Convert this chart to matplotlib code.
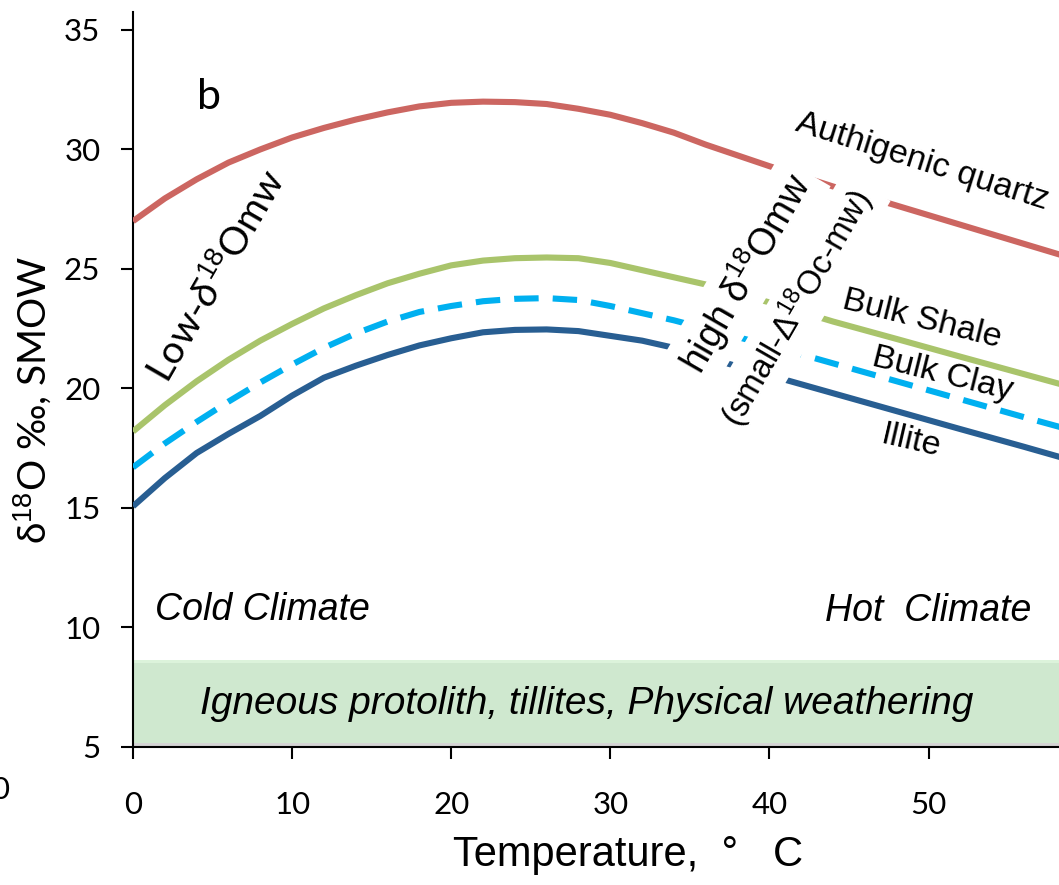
import numpy as np
import matplotlib
matplotlib.use("Agg")
import matplotlib.pyplot as plt

plt.rcParams['mathtext.fontset'] = 'custom'
plt.rcParams['mathtext.rm'] = 'Liberation Sans'
plt.rcParams['mathtext.it'] = 'Liberation Sans:italic'

# temperature (deg C) and d18O values
temp = [0, 2, 4, 6, 8, 10, 12, 14, 16, 18, 20, 22, 24, 26, 28, 30, 32, 34, 36,
        40, 44, 48, 52, 56, 60]
quartz = [27.0, 27.95, 28.75, 29.45, 30.0, 30.5, 30.9, 31.25, 31.55, 31.8, 31.95, 32.0,
          31.98, 31.9, 31.7, 31.45, 31.1, 30.7, 30.2, 29.3, 28.45, 27.65, 26.85, 26.05, 25.25]
shale = [18.2, 19.3, 20.3, 21.2, 22.0, 22.7, 23.35, 23.9, 24.4, 24.8, 25.15, 25.35,
         25.45, 25.48, 25.45, 25.25, 24.95, 24.65, 24.35, 23.6, 22.8, 22.07, 21.33, 20.6, 19.87]
clay = [16.7, 17.7, 18.6, 19.45, 20.25, 21.0, 21.7, 22.3, 22.8, 23.2, 23.45, 23.65,
        23.75, 23.78, 23.7, 23.45, 23.15, 22.85, 22.5, 21.8, 21.05, 20.3, 19.55, 18.8, 18.07]
illite = [15.07, 16.25, 17.3, 18.1, 18.85, 19.7, 20.45, 20.95, 21.4, 21.8, 22.1, 22.35,
          22.45, 22.47, 22.4, 22.2, 22.0, 21.7, 21.3, 20.55, 19.8, 19.05, 18.3, 17.56, 16.8]

xticks = [0, 10, 20, 30, 40, 50]
yticks = [5, 10, 15, 20, 25, 30, 35]

fig = plt.figure(figsize=(10.59, 8.85), dpi=100)
ax = fig.add_axes([133/1059, 1-747/885, 926/1059, 735/885])

lw = 4.4
ax.plot(temp, quartz, color='#CC6661', lw=lw, solid_capstyle='butt', zorder=3)
ax.plot(temp, shale, color='#A9C46B', lw=lw, solid_capstyle='butt', zorder=3)
ax.plot(temp, clay, color='#00B0F0', lw=lw, dashes=(4, 2.3), zorder=3)
ax.plot(temp, illite, color='#285E92', lw=lw, solid_capstyle='butt', zorder=3)

# green band at the bottom
ax.fill_between([0, 60], 5.02, 5.15, color='#d4d4d4', lw=0, zorder=1)
ax.fill_between([0, 60], 5.15, 8.65, color='#CFE8CF', lw=0, zorder=1)
ax.fill_between([0, 60], 8.5, 8.65, color='#DCF3DB', lw=0, zorder=1)

ax.set_xlim(0, 58.2)
ax.set_ylim(5, 35.75)
ax.set_xticks(xticks)
ax.set_yticks(yticks)
for s in ['top', 'right']:
    ax.spines[s].set_visible(False)
for s in ['left', 'bottom']:
    ax.spines[s].set_linewidth(1.5)
ax.tick_params(axis='both', direction='out', length=8.5, width=1.5)
ax.tick_params(axis='y', pad=15)
ax.tick_params(axis='x', pad=23)
for lab in ax.get_xticklabels() + ax.get_yticklabels():
    lab.set_fontfamily(['Lato', 'DejaVu Sans'])
    lab.set_fontsize(22.5)

ax.text(-0.108, 0.472, r'δ$^{18}$O ‰, SMOW', rotation=90, ha='center', va='center',
        transform=ax.transAxes, fontsize=28, family=['Lato', 'DejaVu Sans'])
ax.text(0.535, -0.147, 'Temperature,  °   C', ha='center', va='center',
        transform=ax.transAxes, fontsize=30, family='Liberation Sans')

ax.text(4.8, 32.2, 'b', fontsize=31, ha='center', va='center', family='Lato')

lab_font = dict(family='Liberation Sans', fontsize=24.5)
ax.text(49.6, 29.5, 'Authigenic quartz', rotation=-17.5, ha='center', va='center', **lab_font)
ax.text(49.6, 22.9, 'Bulk Shale', rotation=-14, ha='center', va='center', **lab_font)
ax.text(50.9, 20.6, 'Bulk Clay', rotation=-14, ha='center', va='center', **lab_font)
ax.text(48.9, 17.8, 'Illite', rotation=-13, ha='center', va='center', **lab_font)

ax.text(5.3, 24.7, r'Low-$\delta^{18}$Omw', rotation=60, ha='center', va='center',
        fontsize=28, family=['Lato', 'DejaVu Sans'], zorder=4)

box = dict(facecolor='white', edgecolor='none', pad=5)
ax.text(38.5, 24.8, r'high δ$^{18}$Omw', rotation=60, ha='center', va='center',
        fontsize=27, family='Liberation Sans', bbox=box, zorder=5)
ax.text(41.7, 23.35, r'(small-Δ$^{18}$Oc-mw)', rotation=60, ha='center', va='center',
        fontsize=24, family='Liberation Sans', bbox=box, zorder=5)

it_font = dict(family='Liberation Sans', style='italic', fontsize=27)
ax.text(1.4, 10.75, 'Cold Climate', ha='left', va='center', **it_font)
ax.text(43.5, 10.7, 'Hot  Climate', ha='left', va='center', **it_font)
ax.text(28.5, 6.8, 'Igneous protolith, tillites, Physical weathering', ha='center',
        va='center', family='Liberation Sans', style='italic', fontsize=28, zorder=2)

# piece of the neighbouring panel's tick label
fig.text(0.0, 1 - 790/885, '0', ha='center', va='center', fontsize=22.5, family='Lato')

fig.savefig('out.png', dpi=100)
